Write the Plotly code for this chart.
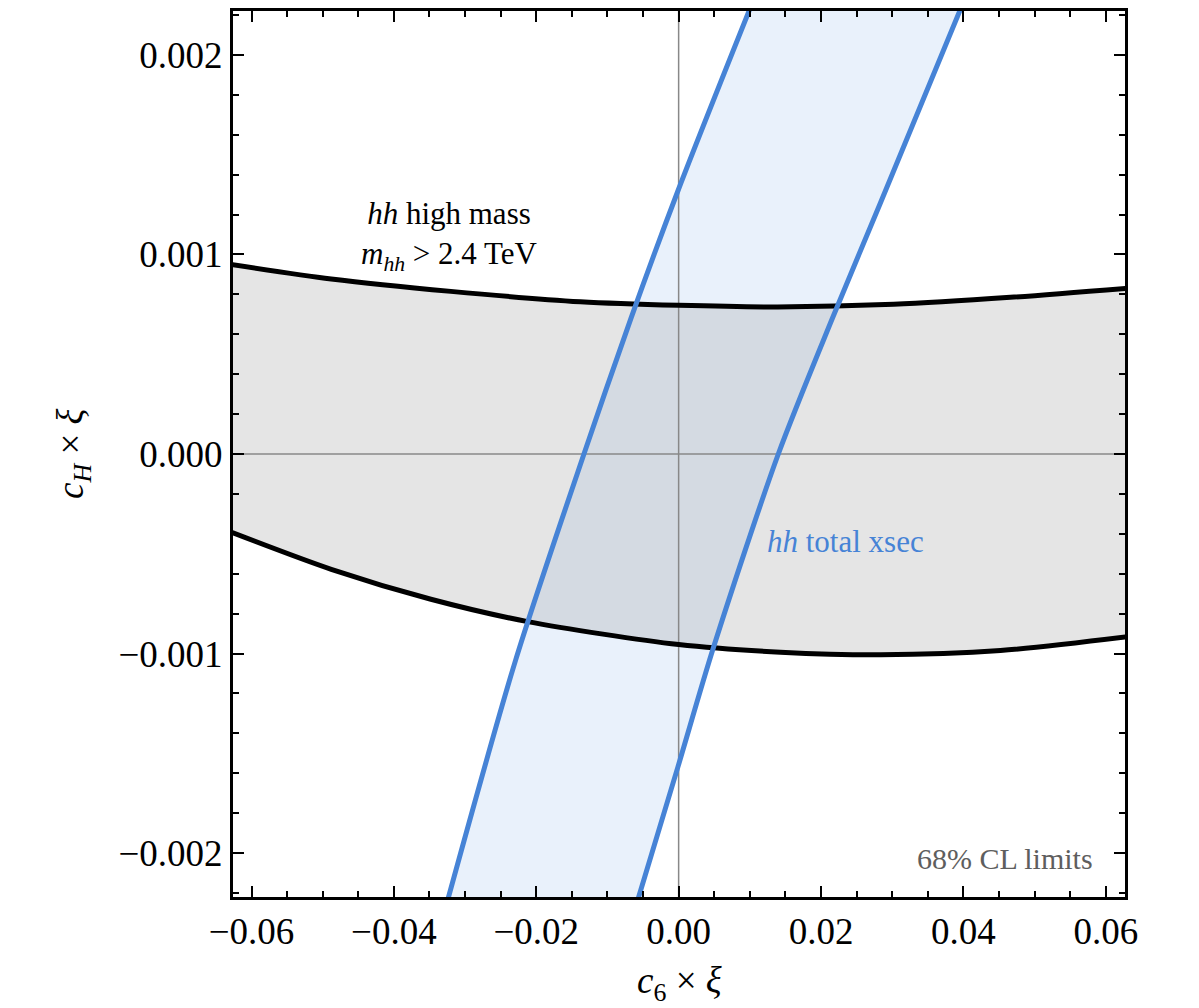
import plotly.graph_objects as go

# ---- data ----
# hh high mass band (black boundaries)
hm_upper_x = [-0.0627, -0.0488, -0.0320, -0.0138, 0.0, 0.0139, 0.0302, 0.0466, 0.0628]
hm_upper_y = [0.000949, 0.000877, 0.000815, 0.000763, 0.000745, 0.000737, 0.000750, 0.000785, 0.000830]
hm_lower_x = [-0.0627, -0.0488, -0.0348, -0.0212, 0.0, 0.0143, 0.0284, 0.0452, 0.0628]
hm_lower_y = [-0.000394, -0.000578, -0.000728, -0.000840, -0.000955, -0.000993, -0.001006, -0.000985, -0.000917]

# hh total xsec band (blue boundaries)
tx_left_x = [-0.0324, -0.0229, -0.0133, -0.0067, 0.0, 0.0100]
tx_left_y = [-0.00223, -0.001033, 0.0, 0.000680, 0.001328, 0.00223]
tx_right_x = [-0.0057, -0.0001, 0.0049, 0.0140, 0.0216, 0.0284, 0.0396]
tx_right_y = [-0.00223, -0.001568, -0.000969, 0.0, 0.000680, 0.001263, 0.00223]

x_range = [-0.0626, 0.0627]
y_range = [-0.00222, 0.00222]

FONT = "Liberation Serif"
BLUE = "#4683d6"

fig = go.Figure()

# blue band fill
fig.add_trace(go.Scatter(
    x=tx_left_x + tx_right_x[::-1], y=tx_left_y + tx_right_y[::-1],
    fill="toself", fillcolor="rgb(233,241,251)", mode="none", hoverinfo="skip"))
# gray band fill (semi-transparent so overlap is darker)
fig.add_trace(go.Scatter(
    x=hm_upper_x + hm_lower_x[::-1], y=hm_upper_y + hm_lower_y[::-1],
    fill="toself", fillcolor="rgba(143,143,143,0.23)", mode="none", hoverinfo="skip"))

# zero lines
fig.add_trace(go.Scatter(x=x_range, y=[0, 0], mode="lines",
                         line=dict(color="#888888", width=1.5), hoverinfo="skip"))
fig.add_trace(go.Scatter(x=[0, 0], y=y_range, mode="lines",
                         line=dict(color="#888888", width=1.5), hoverinfo="skip"))

# black boundaries
for xs, ys in [(hm_upper_x, hm_upper_y), (hm_lower_x, hm_lower_y)]:
    fig.add_trace(go.Scatter(x=xs, y=ys, mode="lines",
                             line=dict(color="black", width=5, shape="spline", smoothing=0.8),
                             hoverinfo="skip"))
# blue boundaries
for xs, ys in [(tx_left_x, tx_left_y), (tx_right_x, tx_right_y)]:
    fig.add_trace(go.Scatter(x=xs, y=ys, mode="lines",
                             line=dict(color=BLUE, width=5, shape="spline", smoothing=0.8),
                             hoverinfo="skip"))

axis_common = dict(
    showline=True, linecolor="black", linewidth=3, mirror="allticks",
    ticks="inside", ticklen=11, tickwidth=2, tickcolor="black",
    showgrid=False, zeroline=False,
    tickfont=dict(family=FONT, size=37, color="black"),
)

fig.update_xaxes(range=x_range, tickmode="array",
                 tickvals=[-0.06, -0.04, -0.02, 0.0, 0.02, 0.04, 0.06],
                 ticktext=["\u22120.06", "\u22120.04", "\u22120.02", "0.00", "0.02", "0.04", "0.06"],
                 minor=dict(dtick=0.005, tick0=0, ticks="inside", ticklen=6, tickwidth=2, tickcolor="black"),
                 **axis_common)
fig.update_yaxes(range=y_range, tickmode="array",
                 tickvals=[-0.002, -0.001, 0.0, 0.001, 0.002],
                 ticktext=["\u22120.002", "\u22120.001", "0.000", "0.001", "0.002"],
                 minor=dict(dtick=0.0002, tick0=0, ticks="inside", ticklen=6, tickwidth=2, tickcolor="black"),
                 **axis_common)

annotations = [
    dict(text="<i>c</i><sub>6</sub> \u00d7 <i>\u03be</i>", xref="paper", yref="paper",
         x=0.5, y=0, yshift=-86, xanchor="center", yanchor="middle", showarrow=False,
         font=dict(family=FONT, size=37, color="black")),
    dict(text="<i>c</i><sub><i>H</i></sub> \u00d7 <i>\u03be</i>", xref="paper", yref="paper",
         x=0, y=0.5, xshift=-160, xanchor="center", yanchor="middle", textangle=-90,
         showarrow=False, font=dict(family=FONT, size=37, color="black")),
    dict(text="<i>hh</i> high mass<br><i>m</i><sub><i>hh</i></sub> > 2.4 TeV", x=-0.0322, y=0.00088,
         xanchor="center", yanchor="bottom", showarrow=False, align="center",
         font=dict(family=FONT, size=31, color="black")),
    dict(text="<i>hh</i> total xsec", x=0.0234, y=-0.00044, xanchor="center", yanchor="middle",
         showarrow=False, font=dict(family=FONT, size=31, color=BLUE)),
    dict(text="68% CL limits", x=0.0585, y=-0.002025, xanchor="right", yanchor="middle",
         showarrow=False, font=dict(family=FONT, size=30, color="#5e5e5e")),
]

fig.update_layout(
    width=1199, height=1008,
    margin=dict(l=233, r=74, t=8, b=111),
    paper_bgcolor="white", plot_bgcolor="white",
    showlegend=False, annotations=annotations,
)

fig.write_html("out.html")
